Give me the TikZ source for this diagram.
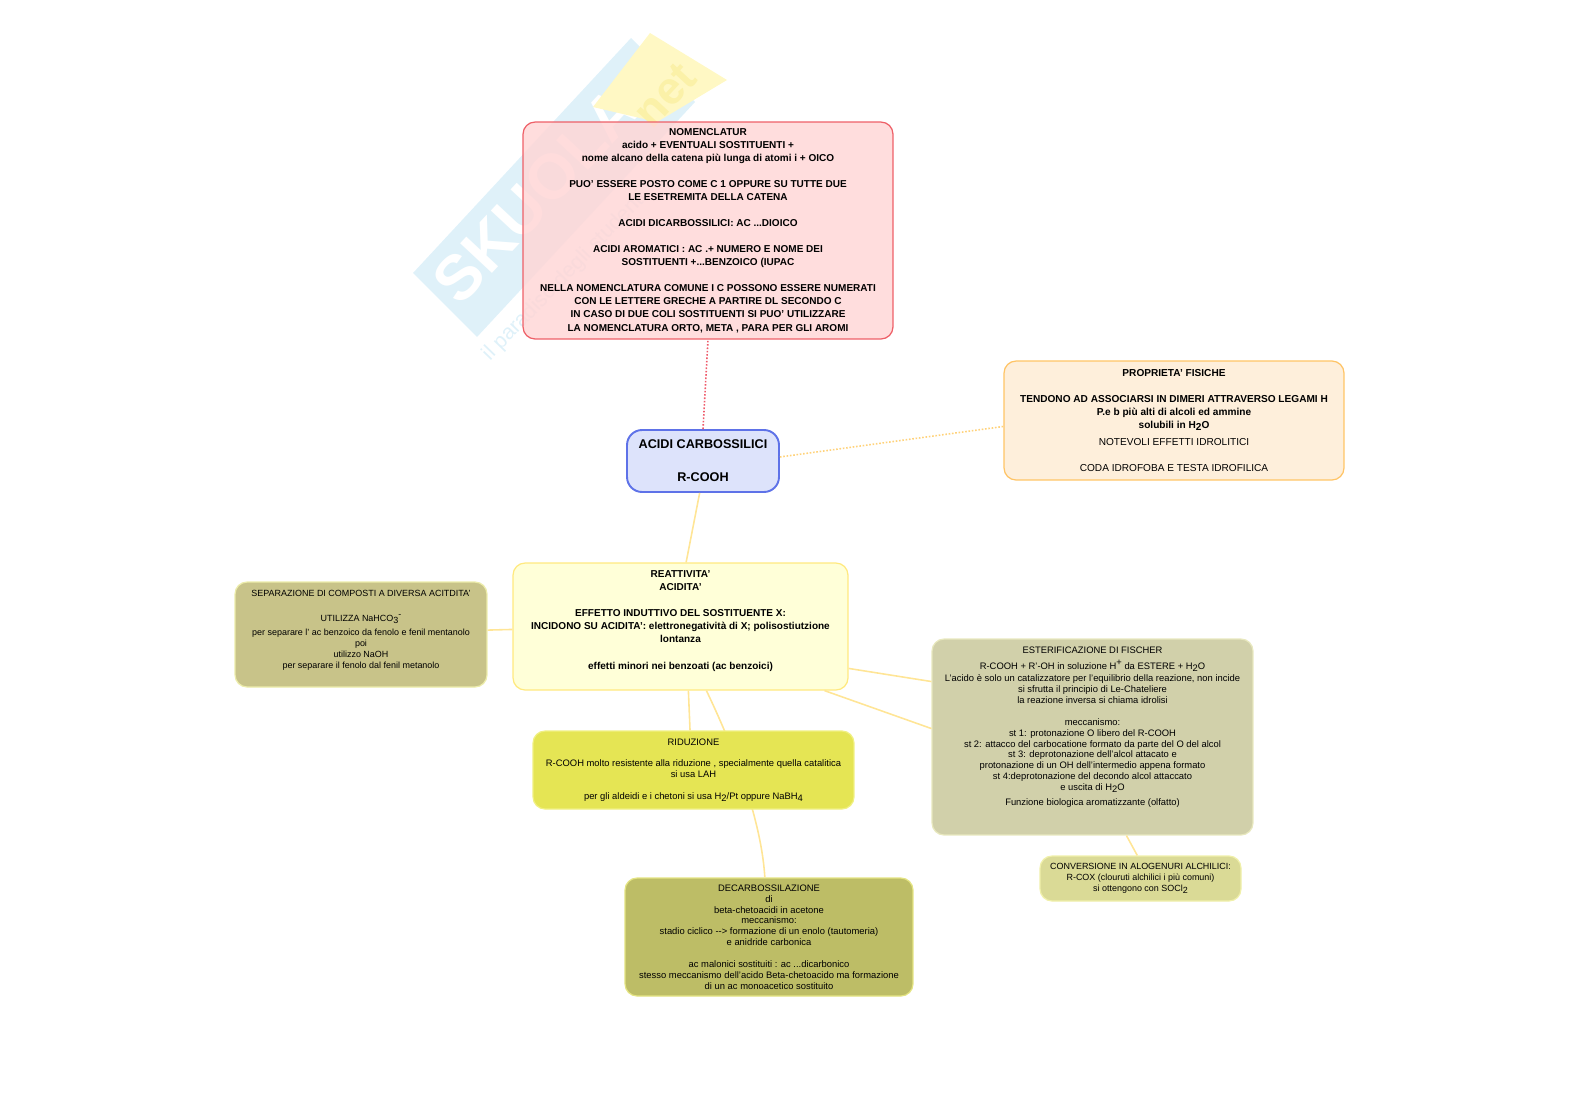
\documentclass[tikz,border=0pt]{standalone}
\usepackage{fontspec}
\setmainfont{Liberation Sans}
\usepackage{tikz}

\newcommand{\lowdig}[1]{\raisebox{-.4ex}{#1}}
\newcommand{\highdig}[1]{\raisebox{.7ex}{#1}}

\definecolor{linkyellow}{HTML}{FFE596}
\definecolor{linkorange}{HTML}{FFD27A}
\definecolor{linkred}{HTML}{EE5A6A}
\definecolor{wmblue}{HTML}{DFF1F9}
\definecolor{wmyellow}{HTML}{FFF8C4}
\definecolor{wmnet}{HTML}{FBF1A8}

\tikzset{
    mapbox/.style={draw, rounded corners=0.24cm, align=center, inner sep=0pt, line width=0.7pt},
    boldtext/.style={font=\fontsize{5.7}{7.42}\selectfont\bfseries},
    smalltext/.style={font=\fontsize{5.1}{6.2}\selectfont},
    midtext/.style={font=\fontsize{5.35}{6.2}\selectfont},
    maplink/.style={line width=0.9pt, draw=linkyellow},
}

\begin{document}
\begin{tikzpicture}[x=0.02cm, y=-0.02cm]

    \useasboundingbox (0,0) rectangle (1577,1116);

    % Watermark behind the map
    \fill[wmblue] (413,273) -- (631,38) -- (695,102) -- (477,337) -- cycle;
    \node[rotate=47, text=white, font=\fontsize{36}{36}\selectfont\bfseries] (wmname) at (536,195) {SKUOLA};
    \fill[wmyellow] (650,33) -- (727,80) -- (657,122) -- (593,107) -- cycle;
    \node[rotate=47, text=wmnet, font=\fontsize{26}{26}\selectfont\bfseries] (wmnetname) at (665,95) {net};
    \node[rotate=46, anchor=west, text=wmblue, font=\fontsize{12}{12}\selectfont] (wmslogan) at (482,362) {il paradiso degli studenti};

    % Central node
    \node[mapbox, line width=1.1pt, rounded corners=0.3cm, draw={rgb,255:red,94;green,114;blue,232}, fill={rgb,255:red,221;green,227;blue,251},
          minimum width=3.04cm, minimum height=1.24cm, font=\fontsize{7.2}{9.4}\selectfont\bfseries] (centre) at (703,461) {ACIDI CARBOSSILICI\\~\\R-COOH};

    % Nomenclature
    \node[mapbox, boldtext, draw={rgb,255:red,238;green,96;blue,104}, fill={rgb,255:red,255;green,214;blue,214}, fill opacity=0.84, text opacity=1,
          minimum width=7.4cm, minimum height=4.34cm] (nomen) at (708,230.5) {NOMENCLATUR\\
        acido + EVENTUALI SOSTITUENTI +\\
        nome alcano della catena più lunga di atomi i  + OICO\\
        ~\\
        PUO' ESSERE POSTO  COME C 1 OPPURE SU TUTTE DUE\\
        LE ESETREMITA DELLA CATENA\\
        ~\\
        ACIDI DICARBOSSILICI:  AC ...DIOICO\\
        ~\\
        ACIDI AROMATICI : AC .+ NUMERO E NOME DEI\\
        SOSTITUENTI +...BENZOICO (IUPAC\\
        ~\\
        NELLA NOMENCLATURA COMUNE I C POSSONO ESSERE NUMERATI\\
        CON LE LETTERE GRECHE A PARTIRE DL SECONDO C\\
        IN CASO DI DUE COLI SOSTITUENTI SI PUO' UTILIZZARE\\
        LA NOMENCLATURA ORTO, META , PARA PER GLI AROMI};

    % Physical properties
    \node[mapbox, draw={rgb,255:red,255;green,196;blue,102}, fill={rgb,255:red,254;green,239;blue,219}, minimum width=6.8cm, minimum height=2.38cm,
          font=\fontsize{5.75}{7.4}\selectfont] (physical) at (1174,420.5) {\bfseries PROPRIETA' FISICHE\\
        ~\\
        \bfseries TENDONO AD ASSOCIARSI IN DIMERI ATTRAVERSO LEGAMI H\\
        \bfseries P.e b più alti di alcoli ed ammine\\
        \bfseries solubili in H\lowdig{2}O\\[2.5pt]
        NOTEVOLI EFFETTI IDROLITICI\\
        ~\\
        CODA IDROFOBA E TESTA IDROFILICA};

    % Reactivity
    \node[mapbox, boldtext, draw={rgb,255:red,255;green,233;blue,127}, fill={rgb,255:red,255;green,255;blue,216}, minimum width=6.7cm, minimum height=2.54cm] (react) at (680.5,626.5) {REATTIVITA'\\
        ACIDITA'\\
        ~\\
        EFFETTO INDUTTIVO DEL SOSTITUENTE X:\\
        INCIDONO SU ACIDITA': elettronegatività di X; polisostiutzione\\
        lontanza\\
        ~\\
        effetti minori nei benzoati (ac benzoici)\\
        ~};

    % Separation
    \node[mapbox, smalltext, draw={rgb,255:red,236;green,236;blue,170}, fill={rgb,255:red,200;green,195;blue,137}, minimum width=5.04cm, minimum height=2.1cm] (separ) at (361,634.5) {SEPARAZIONE DI COMPOSTI A DIVERSA ACITDITA'\\
        ~\\[2pt]
        UTILIZZA NaHCO\lowdig{3}\raisebox{.7ex}{\tiny -}\\[2pt]
        per separare l' ac benzoico da fenolo e fenil mentanolo\\
        poi\\
        utilizzo NaOH\\
        per separare il fenolo dal fenil metanolo\\
        ~};

    % Decarboxylation
    \node[mapbox, midtext, draw={rgb,255:red,228;green,228;blue,130}, fill={rgb,255:red,189;green,189;blue,102}, minimum width=5.76cm, minimum height=2.36cm] (decarb) at (769,937) {DECARBOSSILAZIONE\\
        di\\
        beta-chetoacidi in acetone\\
        meccanismo:\\
        stadio ciclico -{}-> formazione di un enolo (tautomeria)\\
        e anidride carbonica\\
        ~\\
        ac malonici sostituiti : ac ...dicarbonico\\
        stesso meccanismo dell'acido Beta-chetoacido ma formazione\\
        di un ac monoacetico sostituito};

    % This connector runs behind the reduction box
    \draw[maplink] (react.-68.9) .. controls (742,765) and (762,830) .. (decarb.94.8);

    % Reduction
    \node[mapbox, midtext, draw={rgb,255:red,240;green,240;blue,130}, fill={rgb,255:red,229;green,229;blue,84}, minimum width=6.42cm, minimum height=1.56cm] (reduct) at (693.5,770) {RIDUZIONE\\
        ~\\
        R-COOH molto resistente alla riduzione , specialmente quella catalitica\\
        si usa LAH\\
        ~\\
        per gli aldeidi e i chetoni si usa H\lowdig{2}/Pt oppure NaBH\lowdig{4}};

    % Fischer esterification
    \node[mapbox, midtext, draw={rgb,255:red,232;green,232;blue,190}, fill={rgb,255:red,209;green,208;blue,170}, minimum width=6.42cm, minimum height=3.92cm] (ester) at (1092.5,737) {ESTERIFICAZIONE DI FISCHER\\[2.5pt]
        R-COOH + R'-OH in soluzione H\highdig{+} da ESTERE + H\lowdig{2}O\\[1pt]
        L'acido è solo un catalizzatore per l'equilibrio della reazione, non incide\\
        si sfrutta il principio di Le-Chateliere\\
        la reazione inversa si chiama idrolisi\\
        ~\\
        meccanismo:\\
        st 1: protonazione  O libero del R-COOH\\
        st 2:  attacco del carbocatione formato da parte del O del alcol\\
        st 3: deprotonazione dell'alcol attacato e\\
        protonazione di un OH dell'intermedio appena formato\\
        st 4:deprotonazione del decondo alcol attaccato\\
        e uscita di H\lowdig{2}O\\[2pt]
        Funzione biologica aromatizzante (olfatto)\\
        ~\\
        ~};

    % Halide conversion
    \node[mapbox, smalltext, draw={rgb,255:red,240;green,240;blue,170}, fill={rgb,255:red,218;green,218;blue,150}, minimum width=4.02cm, minimum height=0.9cm] (halide) at (1140.5,878.5) {CONVERSIONE IN ALOGENURI ALCHILICI:\\
        R-COX (clouruti alchilici i più comuni)\\
        si ottengono con SOCl\lowdig{2}};

    % Connectors
    \draw[maplink, draw=linkred, densely dotted] (centre.90) -- (nomen.270);
    \draw[maplink, draw=linkorange, densely dotted] (centre.3) -- (physical.182);
    \draw[maplink] (centre.264.5) -- (react.85);
    \draw[maplink] (react.181.2) -- (separ.2);
    \draw[maplink] (react.-83.3) -- (reduct.95.1);
    \draw[maplink] (react.-14.6) -- (ester.161.4);
    \draw[maplink] (react.-24) -- (ester.177.1);
    \draw[maplink] (ester.-71.7) -- (halide.98.8);

\end{tikzpicture}
\end{document}
